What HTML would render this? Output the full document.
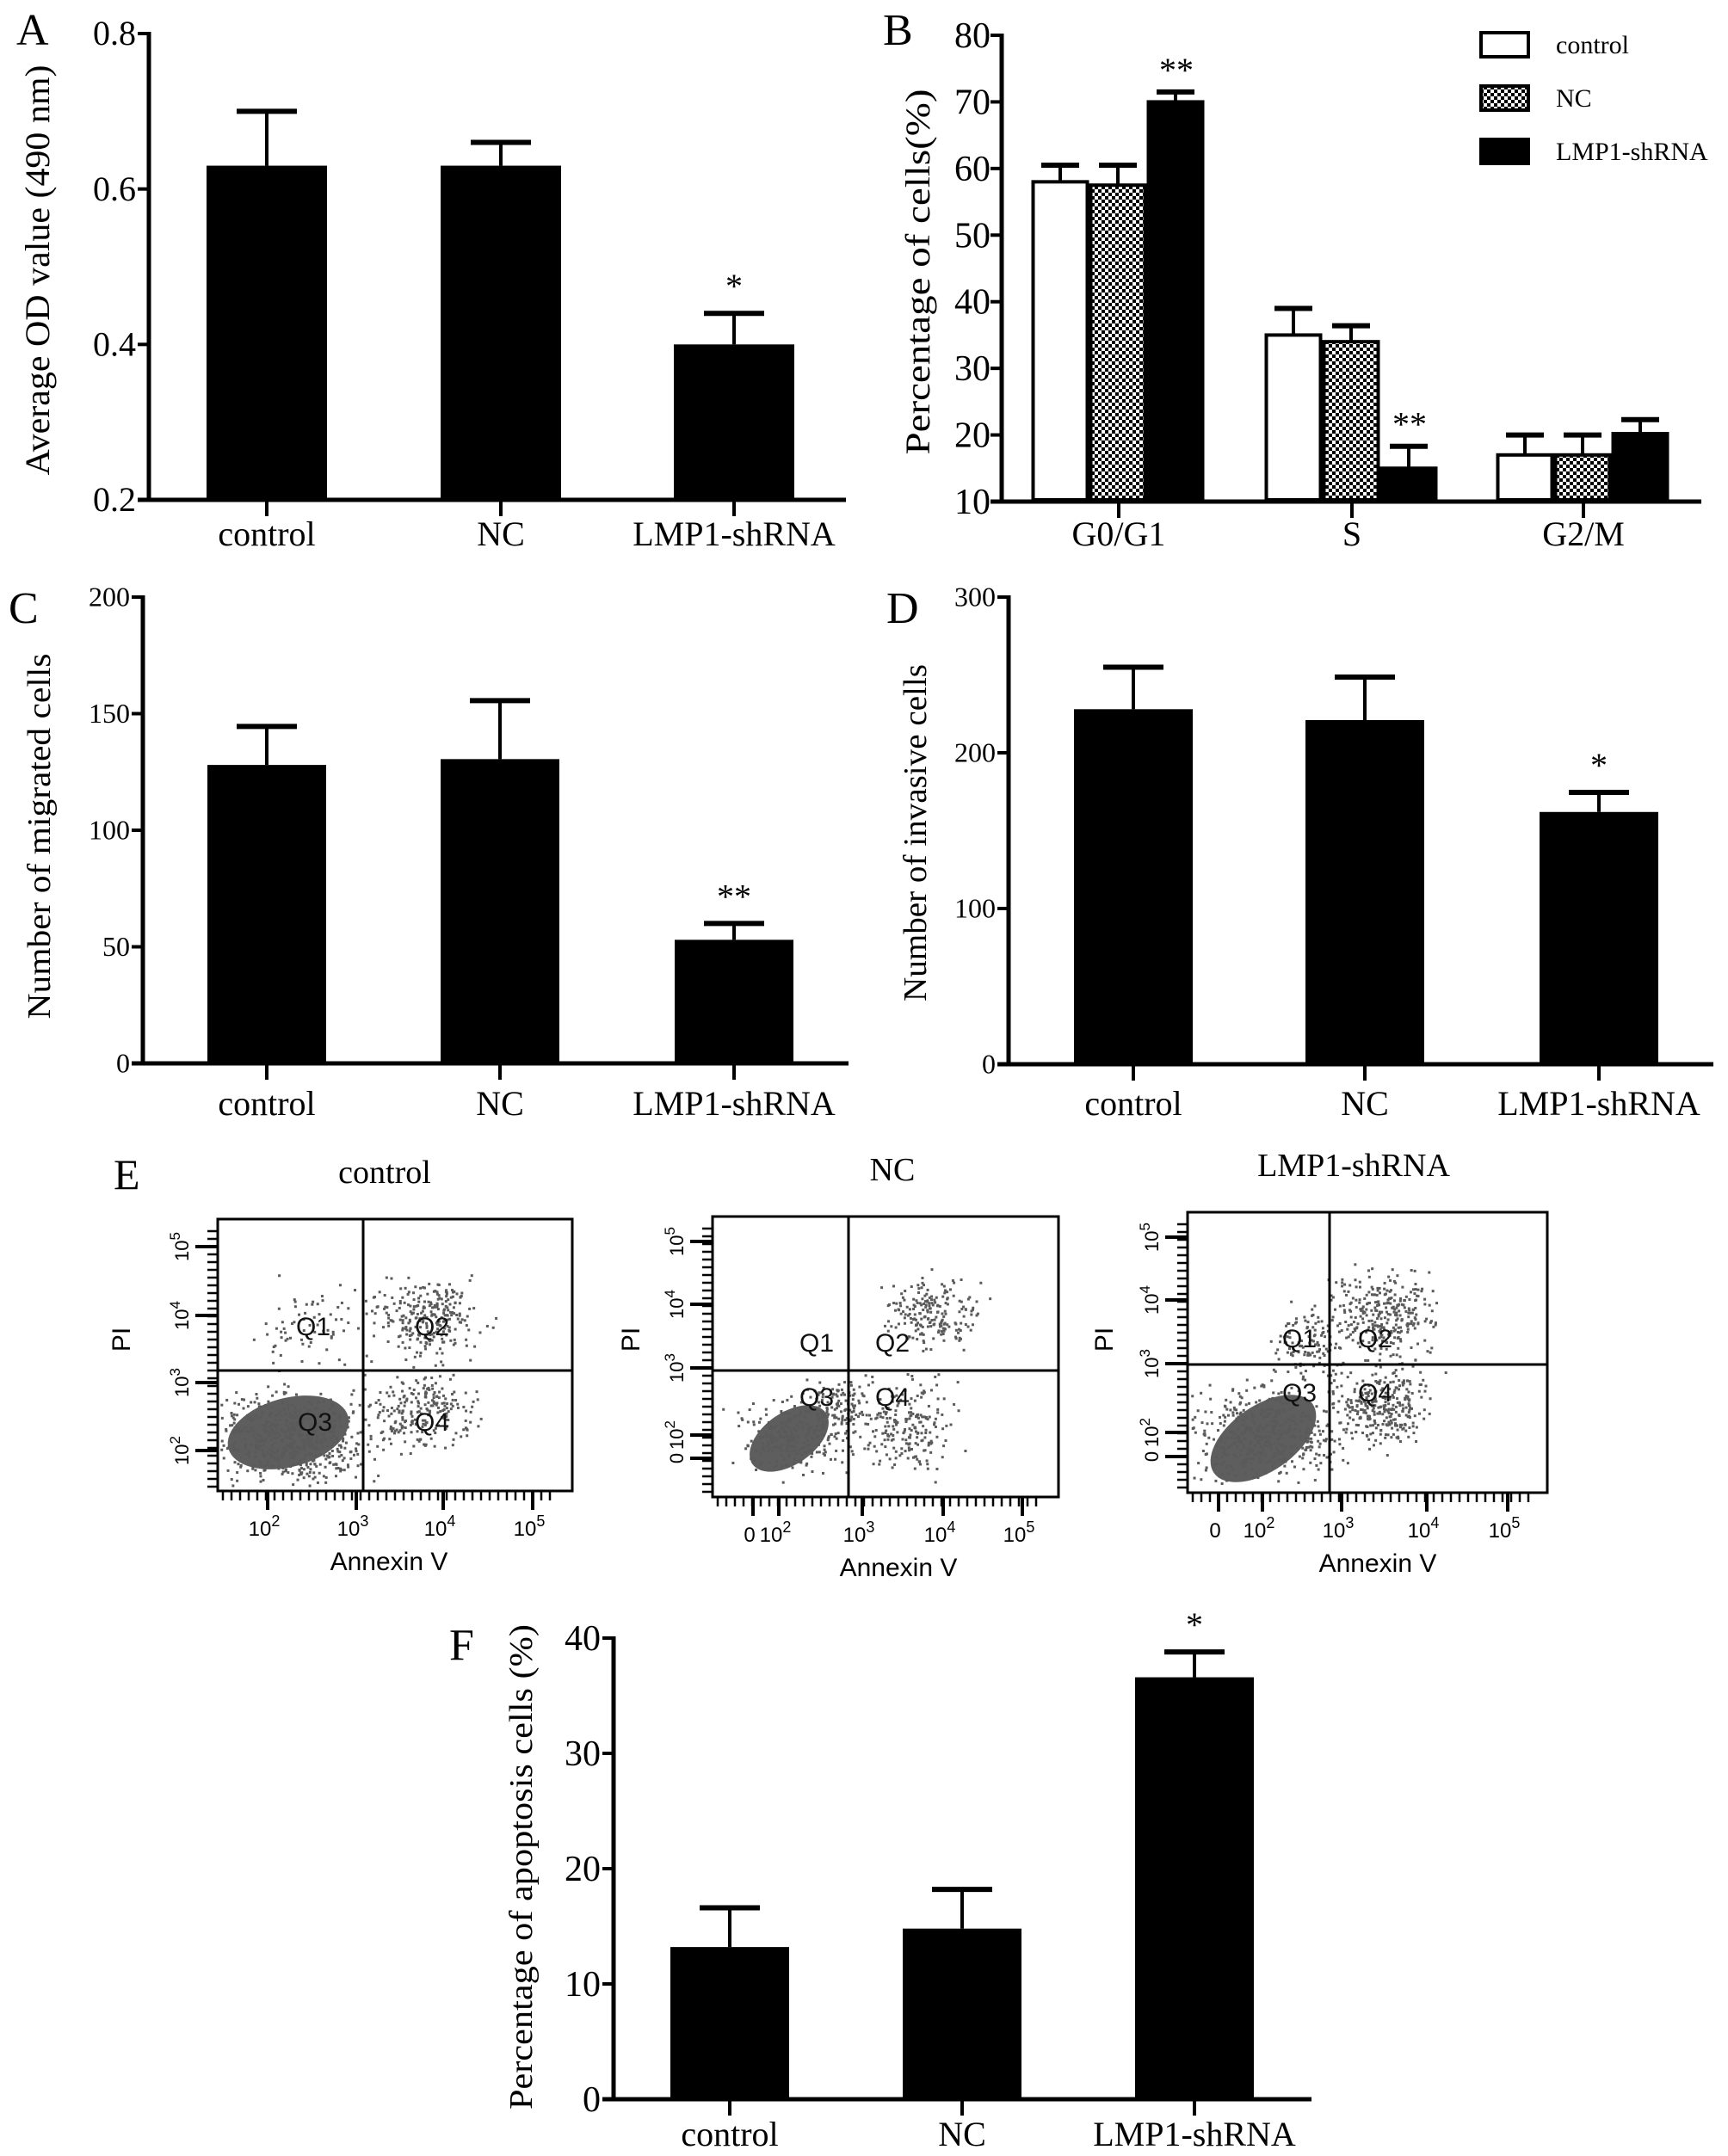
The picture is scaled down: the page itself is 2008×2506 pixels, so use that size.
<!DOCTYPE html>
<html><head><meta charset="utf-8">
<style>
html,body{margin:0;padding:0;background:#fff;}
svg{display:block;}
.serif{font-family:"Liberation Serif",serif;}
.sans{font-family:"Liberation Sans",sans-serif;}
</style></head>
<body>
<svg id="fig" width="2008" height="2506" viewBox="0 0 2008 2506" xmlns="http://www.w3.org/2000/svg">
<defs>
<pattern id="checker" width="8" height="8" patternUnits="userSpaceOnUse">
<rect width="8" height="8" fill="#fff"/>
<rect width="4" height="4" fill="#000"/>
<rect x="4" y="4" width="4" height="4" fill="#000"/>
</pattern>
</defs>
<g id="root"></g>
</svg>
<script>
// ---------- Chart data ----------
var groups3 = ["control", "NC", "LMP1-shRNA"];
// Panel A
var aValues = [0.63, 0.63, 0.40];
var aErrors = [0.70, 0.66, 0.44];
var aTicks = [0.2, 0.4, 0.6, 0.8];
var aTickLabels = ["0.2", "0.4", "0.6", "0.8"];
var aStars = ["", "", "*"];
// Panel B
var bPhases = ["G0/G1", "S", "G2/M"];
var bControl = [58, 35, 17];
var bNC = [57.5, 34, 17];
var bLMP1 = [70, 15, 20.2];
var bControlErr = [60.5, 39, 20];
var bNCErr = [60.5, 36.4, 20];
var bLMP1Err = [71.5, 18.3, 22.3];
var bTicks = [10, 20, 30, 40, 50, 60, 70, 80];
var bStars = ["**", "**", ""];
// Panel C
var cValues = [128, 130.5, 53];
var cErrors = [144.5, 155.6, 60];
var cTicks = [0, 50, 100, 150, 200];
var cStars = ["", "", "**"];
// Panel D
var dValues = [228, 221, 162];
var dErrors = [255, 248.6, 174.6];
var dTicks = [0, 100, 200, 300];
var dStars = ["", "", "*"];
// Panel F
var fValues = [13.2, 14.8, 36.6];
var fErrors = [16.6, 18.2, 38.8];
var fTicks = [0, 10, 20, 30, 40];
var fStars = ["", "", "*"];

var NS = "http://www.w3.org/2000/svg";
var root = document.getElementById("root");
function el(tag, attrs, parent, text) {
  var e = document.createElementNS(NS, tag);
  for (var k in attrs) e.setAttribute(k, attrs[k]);
  if (text !== undefined) e.textContent = text;
  (parent || root).appendChild(e);
  return e;
}
function linScale(d0, d1, r0, r1) { return function (v) { return r0 + (v - d0) * (r1 - r0) / (d1 - d0); }; }

function barPanel(cfg) {
  var g = el("g", {});
  
  
  var y = linScale(cfg.dmin, cfg.dmax, cfg.y0, cfg.y1);
  var L = el("text", {x: cfg.letterX, y: cfg.letterY, "font-size": 52, "class": "serif"}, g, cfg.letter);
  
  
  var ya = el("line", {x1: cfg.ax, y1: cfg.y1 - 2, x2: cfg.ax, y2: cfg.y0 + 2, stroke: "#000", "stroke-width": 5}, g);
  
  
  var xa = el("line", {x1: cfg.ax - 13, y1: cfg.y0, x2: cfg.xEnd, y2: cfg.y0, stroke: "#000", "stroke-width": 5}, g);
  
  
  cfg.ticks.forEach(function (t, i) {
    var ty = y(t);
    var tl = el("line", {x1: cfg.ax - 13, y1: ty, x2: cfg.ax, y2: ty, stroke: "#000", "stroke-width": 4}, g);
    
    
    var lab = cfg.tickLabels ? cfg.tickLabels[i] : String(t);
    var tt = el("text", {x: cfg.ax - 15, y: ty + cfg.tickFont * 0.33, "font-size": cfg.tickFont, "text-anchor": "end", "class": "serif"}, g, lab);
    
    
  });
  var yt = el("text", {x: 0, y: 0, "font-size": cfg.titleFont, "text-anchor": "middle", "class": "serif",
    transform: "translate(" + cfg.titleX + "," + cfg.titleY + ") rotate(-90)", textLength: cfg.titleLen, lengthAdjust: "spacingAndGlyphs"}, g, cfg.title);
  
  
  cfg.centers.forEach(function (cx, i) {
    var top = y(cfg.values[i]), et = y(cfg.errors[i]);
    var el1 = el("line", {x1: cx, y1: top, x2: cx, y2: et, stroke: "#000", "stroke-width": 4}, g);
    
    
    var cap = el("line", {x1: cx - 35, y1: et, x2: cx + 35, y2: et, stroke: "#000", "stroke-width": 6}, g);
    
    
    var b = el("rect", {x: cx - cfg.bw / 2, y: top, width: cfg.bw, height: cfg.y0 - top, fill: "#000"}, g);
    
    
    if (cfg.stars[i]) {
      var s = el("text", {x: cx, y: et - 18, "font-size": 40, "text-anchor": "middle", "class": "serif"}, g, cfg.stars[i]);
      
      
    }
    var xt = el("line", {x1: cx, y1: cfg.y0, x2: cx, y2: cfg.y0 + 19, stroke: "#000", "stroke-width": 4}, g);
    
    
    var xl = el("text", {x: cx, y: cfg.labelY, "font-size": 40, "text-anchor": "middle", "class": "serif"}, g, cfg.cats[i]);
    
    
  });
}

barPanel({name: "panel-a-chart", letter: "A", letterX: 19, letterY: 52, dmin: 0.2, dmax: 0.8, y0: 581, y1: 39, ax: 173, xEnd: 983,
  ticks: aTicks, tickLabels: aTickLabels, tickFont: 40, title: "Average OD value (490 nm)", titleFont: 40, titleX: 57, titleY: 314, titleLen: 477,
  centers: [310, 582, 853], bw: 140, values: aValues, errors: aErrors, cats: groups3, stars: aStars, labelY: 634});
barPanel({name: "panel-c-chart", letter: "C", letterX: 10, letterY: 724, dmin: 0, dmax: 200, y0: 1236, y1: 694, ax: 166, xEnd: 986,
  ticks: cTicks, tickFont: 32, title: "Number of migrated cells", titleFont: 38, titleX: 58, titleY: 972, titleLen: 425,
  centers: [310, 581, 853], bw: 138, values: cValues, errors: cErrors, cats: groups3, stars: cStars, labelY: 1296});
barPanel({name: "panel-d-chart", letter: "D", letterX: 1030, letterY: 724, dmin: 0, dmax: 300, y0: 1237, y1: 694, ax: 1172, xEnd: 1991,
  ticks: dTicks, tickFont: 32, title: "Number of invasive cells", titleFont: 38, titleX: 1076, titleY: 968, titleLen: 392,
  centers: [1317, 1586, 1858], bw: 138, values: dValues, errors: dErrors, cats: groups3, stars: dStars, labelY: 1296});
barPanel({name: "panel-f-chart", letter: "F", letterX: 522, letterY: 1929, dmin: 0, dmax: 40, y0: 2440, y1: 1904, ax: 713, xEnd: 1524,
  ticks: fTicks, tickFont: 42, title: "Percentage of apoptosis cells (%)", titleFont: 38, titleX: 618, titleY: 2170, titleLen: 564,
  centers: [848, 1118, 1388], bw: 138, values: fValues, errors: fErrors, cats: groups3, stars: fStars, labelY: 2494});

// ---------- Panel B (grouped) ----------
(function () {
  var g = el("g", {});
  
  
  var y = linScale(10, 80, 583, 41);
  var ax = 1164, y0 = 583;
  var L = el("text", {x: 1026, y: 52, "font-size": 52, "class": "serif"}, g, "B");
  
  
  var ya = el("line", {x1: ax, y1: 39, x2: ax, y2: y0 + 2, stroke: "#000", "stroke-width": 5}, g);
  
  
  var xa = el("line", {x1: ax - 13, y1: y0, x2: 1977, y2: y0, stroke: "#000", "stroke-width": 5}, g);
  
  
  bTicks.forEach(function (t) {
    var tl = el("line", {x1: ax - 13, y1: y(t), x2: ax, y2: y(t), stroke: "#000", "stroke-width": 4}, g);
    
    
    var tt = el("text", {x: ax - 13, y: y(t) + 14, "font-size": 42, "text-anchor": "end", "class": "serif"}, g, String(t));
    
    
  });
  var yt = el("text", {x: 0, y: 0, "font-size": 40, "text-anchor": "middle", "class": "serif",
    transform: "translate(1080,316) rotate(-90)", textLength: 425, lengthAdjust: "spacingAndGlyphs"}, g, "Percentage of cells(%)");
  
  
  var centers = [1300, 1571, 1840];
  var series = [bControl, bNC, bLMP1], errs = [bControlErr, bNCErr, bLMP1Err];
  var fills = ["#fff", "url(#checker)", "#000"], names = ["control", "nc", "lmp1-shrna"];
  var offs = [-67, 0, 67], bw = 67;
  centers.forEach(function (c, gi) {
    for (var s = 0; s < 3; s++) {
      var cx = c + offs[s] - 1;
      var top = y(series[s][gi]), et = y(errs[s][gi]);
      var e1 = el("line", {x1: cx, y1: top, x2: cx, y2: et, stroke: "#000", "stroke-width": 4}, g);
      
      
      var cap = el("line", {x1: cx - 22, y1: et, x2: cx + 22, y2: et, stroke: "#000", "stroke-width": 6}, g);
      
      
      var r = el("rect", {x: cx - bw / 2 + 2, y: top, width: bw - 4, height: y0 - top - 2, fill: fills[s], stroke: "#000", "stroke-width": 4}, g);
      
      
    }
    if (bStars[gi]) {
      var st = el("text", {x: c + 67, y: y(bLMP1Err[gi]) - 12, "font-size": 40, "text-anchor": "middle", "class": "serif"}, g, bStars[gi]);
      
      
    }
    var xt = el("line", {x1: c, y1: y0, x2: c, y2: y0 + 19, stroke: "#000", "stroke-width": 4}, g);
    
    
    var xl = el("text", {x: c, y: 634, "font-size": 40, "text-anchor": "middle", "class": "serif"}, g, bPhases[gi]);
    
    
  });
  var legY = [52, 114, 176], legNames = ["control", "NC", "LMP1-shRNA"];
  for (var i = 0; i < 3; i++) {
    var lg = el("g", {}, g);
    
    
    el("rect", {x: 1721, y: legY[i] - 14, width: 55, height: 28, fill: fills[i], stroke: "#000", "stroke-width": 4}, lg);
    el("text", {x: 1808, y: legY[i] + 10, "font-size": 30, "class": "serif"}, lg, legNames[i]);
  }
})();

// ---------- Panel E flow cytometry plots ----------
var E = el("text", {x: 132, y: 1382, "font-size": 50, "class": "serif"}, root, "E");


var seed = 7;
function rnd() { seed = (seed * 16807) % 2147483647; return (seed - 1) / 2147483646; }
function gauss() { return (rnd() + rnd() + rnd() - 1.5) / 0.75; }
function flow(p) {
  var g = el("g", {});
  
  
  var t = el("text", {x: p.titleX, y: p.top - 42, "font-size": 38, "text-anchor": "middle", "class": "serif"}, g, p.title);
  
  
  var dots = el("g", {fill: "#5a5a5a"}, g);
  
  
  var core = el("ellipse", {cx: p.core[0], cy: p.core[1], rx: p.core[2], ry: p.core[3], fill: "#5e5e5e",
    transform: "rotate(" + p.core[4] + " " + p.core[0] + " " + p.core[1] + ")"}, dots);
  
  
  p.clouds.forEach(function (c) {
    for (var k = 0; k < c[4]; k++) {
      var x = c[0] + gauss() * c[2], y = c[1] + gauss() * c[3];
      if (x < p.left + 3 || x > p.right - 3 || y < p.top + 3 || y > p.bottom - 3) continue;
      el("rect", {x: x, y: y, width: 3, height: 3}, dots);
    }
  });
  var box = el("rect", {x: p.left, y: p.top, width: p.right - p.left, height: p.bottom - p.top, fill: "none", stroke: "#000", "stroke-width": 3}, g);
  
  
  var vq = el("line", {x1: p.qx, y1: p.top, x2: p.qx, y2: p.bottom, stroke: "#000", "stroke-width": 3}, g);
  
  
  var hq = el("line", {x1: p.left, y1: p.qy, x2: p.right, y2: p.qy, stroke: "#000", "stroke-width": 3}, g);
  
  
  ["Q1", "Q2", "Q3", "Q4"].forEach(function (q, i) {
    var qt = el("text", {x: p.q[i][0], y: p.q[i][1] + 11, "font-size": 30, "text-anchor": "middle", "class": "sans", fill: "#111"}, g, q);
    
    
  });
  var ticksY = el("g", {stroke: "#000", "stroke-width": 2.5}, g);
  
  
  for (var yy = p.top + 14; yy < p.bottom - 4; yy += 9) el("line", {x1: p.left - 12, y1: yy, x2: p.left, y2: yy}, ticksY);
  p.yl.forEach(function (v) {
    el("line", {x1: p.left - 26, y1: v[1], x2: p.left, y2: v[1], "stroke-width": 4}, ticksY);
    var lt = el("text", {x: 0, y: 0, "font-size": 22, "text-anchor": "middle", "class": "sans", stroke: "none",
      transform: "translate(" + (p.left - 34) + "," + v[1] + ") rotate(-90)"}, g);
    
    
    if (v[0] === "0") { lt.textContent = "0"; }
    else { lt.textContent = "10"; el("tspan", {dy: -10, "font-size": 17}, lt, v[0]); }
  });
  var ticksX = el("g", {stroke: "#000", "stroke-width": 2.5}, g);
  
  
  for (var xx = p.left + 6; xx < p.right - 20; xx += 10) el("line", {x1: xx, y1: p.bottom, x2: xx, y2: p.bottom + 11}, ticksX);
  p.xl.forEach(function (v) {
    el("line", {x1: v[1], y1: p.bottom, x2: v[1], y2: p.bottom + 22, "stroke-width": 4}, ticksX);
    var lt = el("text", {x: v[1] - 4, y: p.bottom + 52, "font-size": 24, "text-anchor": "middle", "class": "sans"}, g);
    
    
    if (v[0] === "0") { lt.textContent = "0"; }
    else { lt.textContent = "10"; el("tspan", {dy: -11, "font-size": 18}, lt, v[0]); }
  });
  var ax = el("text", {x: p.annX, y: p.bottom + 92, "font-size": 30, "text-anchor": "middle", "class": "sans"}, g, "Annexin V");
  
  
  var pi = el("text", {x: 0, y: 0, "font-size": 30, "text-anchor": "middle", "class": "sans",
    transform: "translate(" + (p.piX + 11) + ",1557) rotate(-90)"}, g, "PI");
  
  
}
flow({name: "flow-plot-control", title: "control", titleX: 447, left: 253, right: 665, top: 1417, bottom: 1733, qx: 422, qy: 1593,
  core: [335, 1665, 72, 40, -15], clouds: [[335, 1665, 60, 35, 500], [494, 1530, 45, 32, 260], [487, 1640, 45, 32, 230], [370, 1540, 55, 35, 70], [350, 1700, 60, 25, 80]],
  q: [[364, 1541], [502, 1541], [366, 1652], [502, 1652]],
  yl: [["5", 1449], ["4", 1529], ["3", 1607], ["2", 1686]], xl: [["2", 311], ["3", 414], ["4", 515], ["5", 619]], annX: 452, piX: 140});
flow({name: "flow-plot-nc", title: "NC", titleX: 1037, left: 828, right: 1230, top: 1414, bottom: 1740, qx: 986, qy: 1593,
  core: [917, 1672, 52, 30, -35], clouds: [[920, 1670, 45, 30, 250], [1079, 1526, 40, 28, 200], [1051, 1655, 42, 40, 220], [970, 1640, 30, 25, 120]],
  q: [[949, 1560], [1037, 1560], [949, 1623], [1037, 1623]],
  yl: [["5", 1443], ["4", 1516], ["3", 1590], ["2", 1668], ["0", 1695]], xl: [["0", 875], ["2", 905], ["3", 1002], ["4", 1096], ["5", 1188]], annX: 1044, piX: 732});
flow({name: "flow-plot-lmp1-shrna", title: "LMP1-shRNA", titleX: 1573, left: 1380, right: 1798, top: 1409, bottom: 1735, qx: 1545, qy: 1586,
  core: [1468, 1672, 70, 38, -35], clouds: [[1470, 1665, 60, 40, 450], [1605, 1526, 40, 35, 300], [1605, 1635, 40, 35, 300], [1520, 1560, 30, 30, 120]],
  q: [[1510, 1555], [1598, 1555], [1510, 1618], [1598, 1618]],
  yl: [["5", 1438], ["4", 1511], ["3", 1585], ["2", 1665], ["0", 1693]], xl: [["0", 1416], ["2", 1467], ["3", 1559], ["4", 1658], ["5", 1752]], annX: 1601, piX: 1282});
</script>
</body></html>
